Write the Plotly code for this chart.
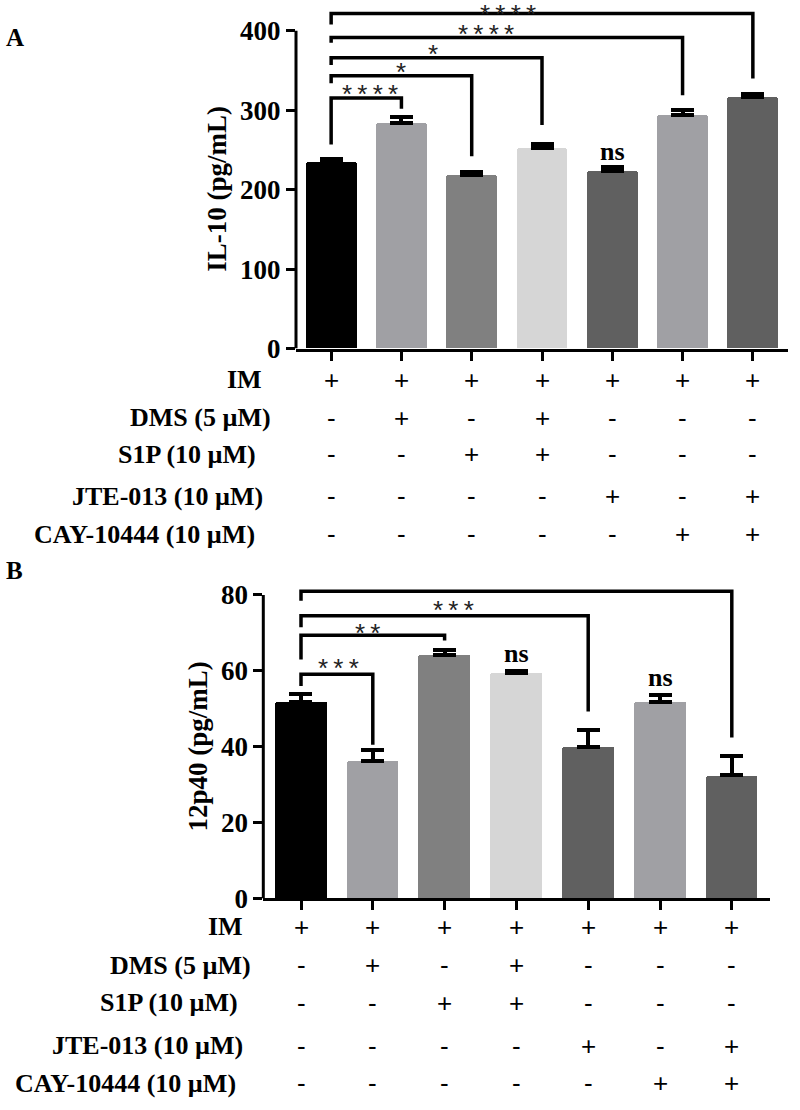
import plotly.graph_objects as go

# ---------------- data ----------------
groups = [0, 1, 2, 3, 4, 5, 6]
il10_mean = [235, 284, 219, 252, 224, 294, 317]
il10_sem = [4, 7, 3, 6, 5, 6, 4]
p40_mean = [51.9, 36.2, 64.2, 59.5, 39.9, 51.9, 32.4]
p40_sem = [2.0, 2.8, 1.4, 0.4, 4.4, 1.6, 5.1]
bar_colors = ["#000000", "#a0a0a4", "#808080", "#d6d6d6", "#606060", "#a0a0a4", "#606060"]

row_labels = ["IM", "DMS (5 µM)", "S1P (10 µM)", "JTE-013 (10 µM)", "CAY-10444 (10 µM)"]
row_signs = [
    ["+", "+", "+", "+", "+", "+", "+"],
    ["-", "+", "-", "+", "-", "-", "-"],
    ["-", "-", "+", "+", "-", "-", "-"],
    ["-", "-", "-", "-", "+", "-", "+"],
    ["-", "-", "-", "-", "-", "+", "+"],
]

il10_ticks = [0, 100, 200, 300, 400]
p40_ticks = [0, 20, 40, 60, 80]

T = "\u2009"
# brackets: (from, to, left-leg bottom, top, right-leg bottom, label, label x, label y)
il10_brackets = [
    (0, 1, 257, 315.5, 302, T.join("****"), 0.55, 327),
    (0, 2, 334, 343.5, 242, "*", 1.0, 354),
    (0, 3, 357, 366, 281.5, "*", 1.45, 377),
    (0, 5, 385, 391.5, 319, T.join("****"), 2.2, 402.5),
    (0, 6, 408, 422, 340, T.join("****"), 2.52, 427),
]
il10_ns = [(4, 247.6)]
p40_brackets = [
    (0, 1, 56, 59.1, 40.5, T.join("***"), 0.52, 62.1),
    (0, 2, 63, 69.4, 68, T.join("**"), 0.92, 71.4),
    (0, 4, 71.5, 74.5, 49.3, T.join("***"), 2.13, 77.3),
    (0, 6, 78.5, 81, 42.4, T.join("***"), 2.74, 84.7),
]
p40_ns = [(3, 64.5), (5, 58.3)]

# ---------------- layout constants ----------------
W, H = 800, 1110
SERIF = "Liberation Serif"
SANS = "Liberation Sans"

def py(p):
    return 1 - p / H

def px(p):
    return p / W

fig = go.Figure()

fig.add_trace(go.Bar(
    x=groups, y=il10_mean, width=0.725,
    marker=dict(color=bar_colors, line=dict(width=0), cornerradius=3),
    error_y=dict(type="data", symmetric=False, array=il10_sem,
                 arrayminus=[0] * 7, color="black", thickness=4, width=11.5),
    xaxis="x", yaxis="y", showlegend=False, hoverinfo="skip",
))
fig.add_trace(go.Bar(
    x=groups, y=p40_mean, width=0.72,
    marker=dict(color=bar_colors, line=dict(width=0), cornerradius=3),
    error_y=dict(type="data", symmetric=False, array=p40_sem,
                 arrayminus=[0] * 7, color="black", thickness=4, width=11.5),
    xaxis="x2", yaxis="y2", showlegend=False, hoverinfo="skip",
))

tickfont = dict(family=SERIF, size=27, color="black", weight="bold")
xcommon = dict(showgrid=False, zeroline=False, showline=True, linewidth=3,
               linecolor="black", ticks="outside", ticklen=9, tickwidth=3,
               tickcolor="black", tickvals=groups, showticklabels=False)
ycommon = dict(showgrid=False, zeroline=False, showline=False,
               ticks="outside", ticklen=9, tickwidth=3, tickcolor="black",
               tickfont=tickfont)

fig.update_layout(
    width=W, height=H,
    margin=dict(l=0, r=0, t=0, b=0),
    paper_bgcolor="white", plot_bgcolor="white",
    xaxis=dict(domain=[px(296), px(788)], range=[-0.5, 6.5], anchor="y", **xcommon),
    yaxis=dict(domain=[py(353.3), py(353.3 - 430 * 0.805)], range=[0, 430],
               tickvals=il10_ticks, anchor="x", **ycommon),
    xaxis2=dict(domain=[px(263.3), px(770)], range=[-0.525, 6.532], anchor="y2", **xcommon),
    yaxis2=dict(domain=[py(910.7), py(910.7 - 84 * 3.845)], range=[0, 84],
                tickvals=p40_ticks, anchor="x2", **ycommon),
    bargap=0,
)

shapes = []
annotations = []

# y axis lines (stopping at the top tick)
for xr, yr, top in [("x domain", "y", il10_ticks[-1]), ("x2 domain", "y2", p40_ticks[-1])]:
    shapes.append(dict(type="line", xref=xr, yref=yr, x0=0, x1=0, y0=0, y1=top,
                       line=dict(color="black", width=3)))

def add_brackets(brs, xr, yr):
    for a, b, yl, yt, yrb, lab, lx, ly in brs:
        shapes.append(dict(type="path", xref=xr, yref=yr,
                           path=f"M {a},{yl} L {a},{yt} L {b},{yt} L {b},{yrb}",
                           line=dict(color="black", width=3.5)))
        annotations.append(dict(xref=xr, yref=yr, x=lx, y=ly, text=lab, showarrow=False,
                                font=dict(family=SANS, size=26, color="#222222"),
                                xanchor="center", yanchor="middle", yshift=-5))

add_brackets(il10_brackets, "x", "y")
add_brackets(p40_brackets, "x2", "y2")

for xr, yr, lst in [("x", "y", il10_ns), ("x2", "y2", p40_ns)]:
    for xi, yv in lst:
        annotations.append(dict(xref=xr, yref=yr, x=xi, y=yv, text="ns", showarrow=False,
                                font=dict(family=SERIF, size=26, color="black", weight="bold"),
                                xanchor="center", yanchor="middle"))

# table rows
top_rows_y = [385, 423.3, 460.7, 503.3, 541.7]
top_rows_x = [264.3, 273.3, 258.3, 265, 256.7]
bot_rows_y = [939.3, 978.3, 1016.7, 1060, 1098.3]
bot_rows_x = [245, 253, 240, 245, 238]
for xr, ys, xs in [("x", top_rows_y, top_rows_x), ("x2", bot_rows_y, bot_rows_x)]:
    for r, lab in enumerate(row_labels):
        annotations.append(dict(xref="paper", yref="paper", x=px(xs[r]), y=py(ys[r]),
                                text=lab, showarrow=False, xanchor="right", yanchor="middle",
                                font=dict(family=SERIF, size=26, color="black", weight="bold")))
        for c, s in enumerate(row_signs[r]):
            annotations.append(dict(xref=xr, yref="paper", x=groups[c], y=py(ys[r]),
                                    text=s, showarrow=False, xanchor="center", yanchor="middle",
                                    font=dict(family=SANS, size=26, color="black")))

# axis titles
annotations.append(dict(xref="paper", yref="paper", x=px(217.5), y=py(190.8),
                        text="IL-10 (pg/mL)", textangle=-90, showarrow=False,
                        xanchor="center", yanchor="middle",
                        font=dict(family=SERIF, size=27, color="black", weight="bold")))
annotations.append(dict(xref="paper", yref="paper", x=px(198), y=py(756.7),
                        text="12p40 (pg/mL)", textangle=-90, showarrow=False,
                        xanchor="center", yanchor="middle",
                        font=dict(family=SERIF, size=27, color="black", weight="bold")))

# panel letters
for lab, yy in [("A", 38), ("B", 578)]:
    annotations.append(dict(xref="paper", yref="paper", x=px(4), y=py(yy), text=lab,
                            showarrow=False, xanchor="left", yanchor="middle",
                            font=dict(family=SERIF, size=25, color="black", weight="bold")))

fig.update_layout(shapes=shapes, annotations=annotations)
fig.write_html(
    "out.html", config={"displayModeBar": False},
    post_script=(
        "var st=document.createElement('style');"
        "st.textContent='html,body{margin:0!important;padding:0!important;overflow:hidden!important;"
        "width:800px!important;height:1110px!important;}"
        " .main-svg{overflow:hidden!important;}';"
        "document.head.appendChild(st);"
    ),
)
